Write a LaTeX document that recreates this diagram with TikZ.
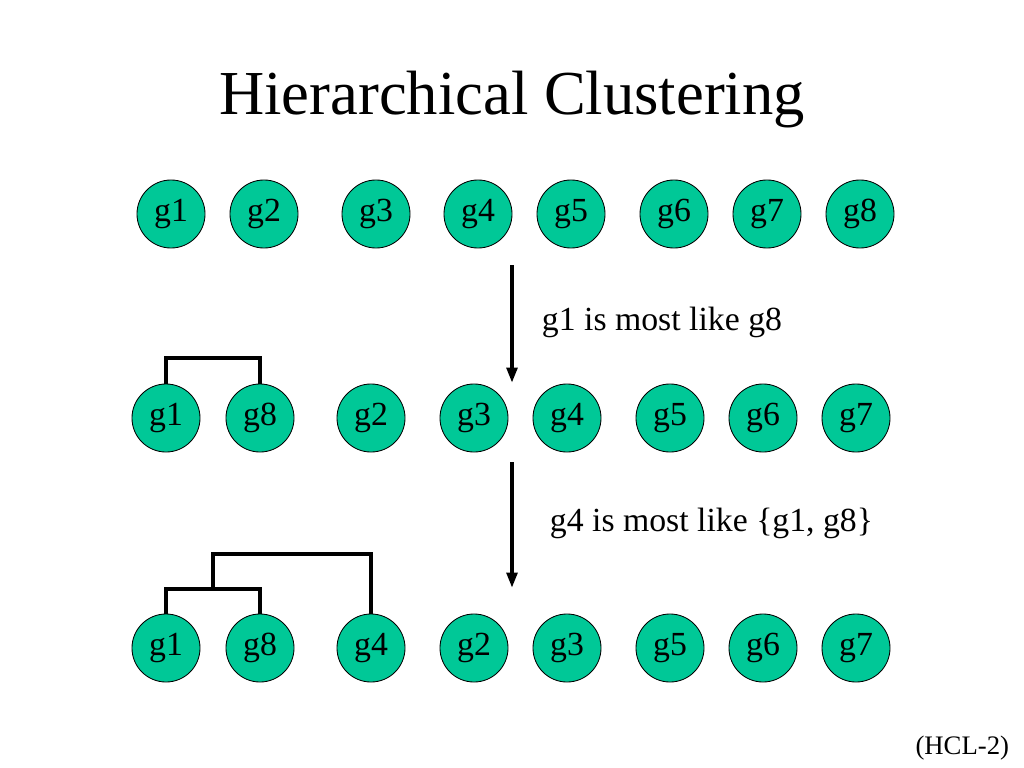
\documentclass[tikz,border=0pt]{standalone}
\usepackage{fontspec}
\setmainfont{Liberation Serif}
\usetikzlibrary{positioning,arrows.meta,calc}
\definecolor{gene}{HTML}{00C897}
\definecolor{ink}{HTML}{000000}
\tikzset{
  gn/.style={circle, draw=ink, line width=0.6pt, fill=gene, minimum size=1.7cm,
    inner sep=0pt, font=\fontsize{24}{24}\selectfont, text=ink},
  link/.style={draw=ink, line width=2.8pt},
  down/.style={-{Triangle[length=11pt,width=7.5pt]}, line width=2.8pt, color=ink},
  note/.style={font=\fontsize{24}{28}\selectfont, anchor=west, text=ink},
}
\begin{document}
\begin{tikzpicture}[x=0.025cm,y=-0.025cm]
  \useasboundingbox[fill=white] (0,0) rectangle (1024,768);
  \node[font=\fontsize{44.5}{44}\selectfont] (title) at (512,100) {Hierarchical Clustering};
  % start: every gene on its own
  \foreach \x/\g in {171/1,264/2,376/3,478/4,571/5,674/6,767/7,860/8}
    \node[gn] (a\g) at (\x,214) {g\g};
  % step 1: g1 joins g8
  \foreach \x/\g [count=\i] in {166/1,260/8,371/2,474/3,567/4,670/5,763/6,856/7}
    \node[gn] (b\i) at (\x,418) {g\g};
  \draw[link] (b1.north) -- ++(0,-26) -| (b2.north);
  % step 2: g4 joins {g1,g8}
  \foreach \x/\g [count=\i] in {166/1,260/8,371/4,474/2,567/3,670/5,763/6,856/7}
    \node[gn] (c\i) at (\x,648) {g\g};
  \coordinate (j1) at ($(c1.north)!0.5!(c2.north)+(0,-25)$);
  \draw[link] (c1.north) |- (j1) -| (c2.north);
  \draw[link] (j1) -- ++(0,-35) -| (c3.north);
  % steps
  \coordinate (s1) at (512,265);
  \coordinate (e1) at (512,383);
  \coordinate (s2) at (512,462);
  \coordinate (e2) at (512,588);
  \draw[down] (s1) -- (e1);
  \draw[down] (s2) -- (e2);
  \node[note] (t1) at (537,322) {g1 is most like g8};
  \node[note] (t2) at (545,523) {g4 is most like \{g1, g8\}};
  \node[font=\fontsize{19}{19}\selectfont, anchor=east] (tag) at (1014,748) {(HCL-2)};
\end{tikzpicture}
\end{document}
